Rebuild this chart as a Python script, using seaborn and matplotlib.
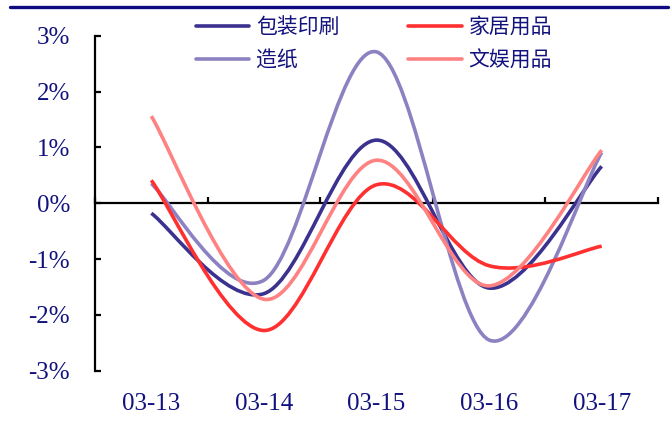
import matplotlib
matplotlib.use("Agg")
import numpy as np
import matplotlib.pyplot as plt
import seaborn as sns
from matplotlib.path import Path
from matplotlib.patches import PathPatch
from matplotlib.lines import Line2D

# values in percent
dates = ["03-13", "03-14", "03-15", "03-16", "03-17"]
baozhuang = [-0.18, -1.62, 1.13, -1.52, 0.66]
jiaju = [0.41, -2.28, 0.33, -1.12, -0.77]
zaozhi = [0.35, -1.38, 2.71, -2.45, 0.91]
wenyu = [1.56, -1.72, 0.77, -1.48, 0.95]

names = ["包装印刷", "造纸", "家居用品", "文娱用品"]
series = [baozhuang, zaozhi, jiaju, wenyu]
colors = ["#3b3290", "#8c82c2", "#ff3030", "#ff8282"]

NAVY = "#12127e"

sns.set_theme(style="ticks")
plt.rcParams["font.family"] = ["Liberation Serif", "DejaVu Serif"]


def smooth_path(xs, ys):
    # excel-like smoothed line: catmull-rom segments as cubic beziers
    pts = np.column_stack([xs, ys]).astype(float)
    n = len(pts)
    verts = [pts[0]]
    codes = [Path.MOVETO]
    for i in range(n - 1):
        p0 = pts[max(i - 1, 0)]
        p1 = pts[i]
        p2 = pts[i + 1]
        p3 = pts[min(i + 2, n - 1)]
        c1 = p1 + (p2 - p0) / 6
        c2 = p2 - (p3 - p1) / 6
        verts += [c1, c2, p2]
        codes += [Path.CURVE4] * 3
    return Path(verts, codes)


fig = plt.figure(figsize=(6.71, 4.23), dpi=100)
ax = fig.add_axes([95 / 671, 52.3 / 423, 563 / 671, 335 / 423])

x = np.arange(len(dates))
handles = []
for name, vals, c in zip(names, series, colors):
    ax.add_patch(PathPatch(smooth_path(x, vals), facecolor="none",
                           edgecolor=c, lw=2.6, capstyle="butt", zorder=3))
    handles.append(Line2D([0], [0], color=c, lw=2.6, label=name))

ax.set_xlim(-0.5, 4.5)
ax.set_ylim(-3, 3)

ax.spines["right"].set_visible(False)
ax.spines["top"].set_visible(False)
ax.spines["bottom"].set_position(("data", 0))
for s in ["left", "bottom"]:
    ax.spines[s].set_linewidth(1.6)
    ax.spines[s].set_color("black")

ax.set_yticks([-3, -2, -1, 0, 1, 2, 3])
ax.set_yticklabels([f"{v}%" for v in [-3, -2, -1, 0, 1, 2, 3]])
ax.tick_params(axis="y", direction="in", length=4.5, width=1.6,
               color="black", pad=18, labelsize=18, labelcolor=NAVY)

ax.set_xticks(x)
ax.set_xticklabels(dates)
ax.set_xticks(np.arange(-0.5, 4.6, 1), minor=True)
ax.tick_params(axis="x", which="major", length=0, pad=137,
               labelsize=18, labelcolor=NAVY)
ax.tick_params(axis="x", which="minor", direction="in", length=4.5,
               width=1.6, color="black")
ax.grid(False)

leg = fig.legend(handles=handles, ncol=2, loc="upper left",
                 bbox_to_anchor=(196 / 671, 1 - 16 / 423),
                 frameon=False, borderpad=0, borderaxespad=0,
                 handlelength=2.55, handletextpad=0.34, columnspacing=3.3,
                 labelspacing=0.55,
                 prop={"family": ["Noto Sans CJK SC"], "size": 15})
for t in leg.get_texts():
    t.set_color(NAVY)

# navy rule across the top
fig.add_artist(Line2D([10 / 671, 668 / 671], [1 - 7.5 / 423] * 2,
                      transform=fig.transFigure, color="#0e0a80", lw=2.4))

fig.savefig("out.png", dpi=100)
